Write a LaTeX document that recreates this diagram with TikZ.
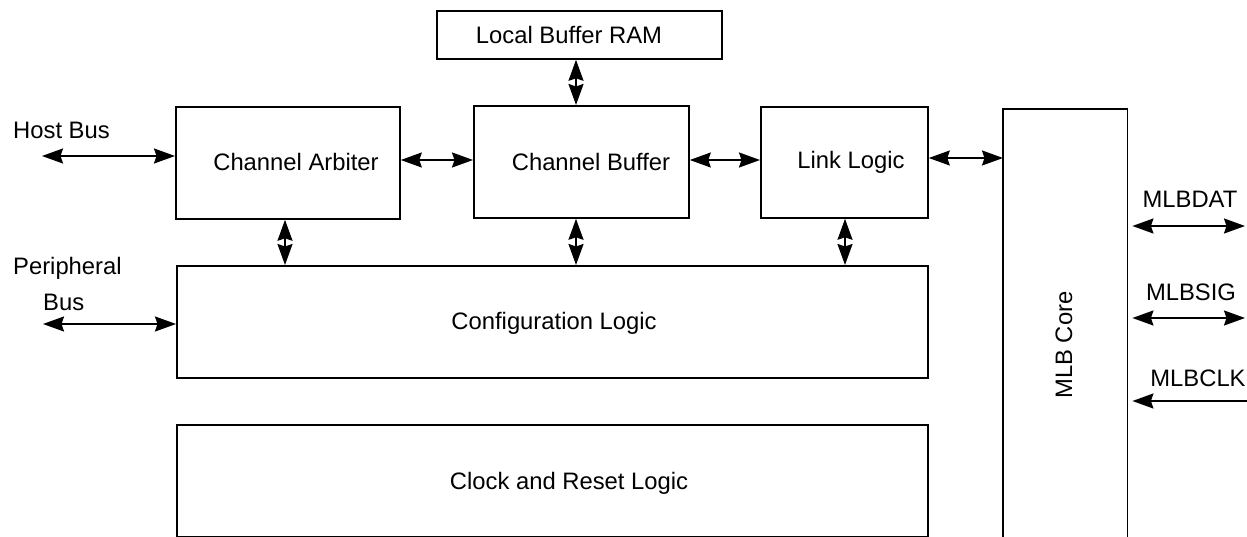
\documentclass[tikz,border=0pt]{standalone}
\usepackage{fontspec}
\setmainfont{Liberation Sans}
\usetikzlibrary{arrows.meta}
\begin{document}
\begin{tikzpicture}[x=1pt,y=-1pt,
  blk/.style={draw, line width=1.8pt, inner sep=0pt, anchor=north west},
  txt/.style={inner sep=0pt, font=\fontsize{23.8}{28}\selectfont},
  conn/.style={line width=1.8pt, {Stealth[length=21pt,width=15pt,inset=2.5pt]}-{Stealth[length=21pt,width=15pt,inset=2.5pt]}},
  conn1/.style={line width=1.8pt, -{Stealth[length=21pt,width=15pt,inset=2.5pt]}}]
\useasboundingbox (0,0) rectangle (1247,537);
% boxes
\node[blk, minimum width=285pt, minimum height=48pt] (lbr) at (436,10) {};
\node[blk, minimum width=224pt, minimum height=112pt] (ca) at (175,106) {};
\node[blk, minimum width=215pt, minimum height=112pt] (cb) at (473,105) {};
\node[blk, minimum width=167pt, minimum height=111pt] (ll) at (760,106) {};
\node[blk, minimum width=751pt, minimum height=112pt] (cfg) at (176,265) {};
\node[blk, minimum width=751pt, minimum height=112pt] (clk) at (176,424) {};
\node[inner sep=0pt, minimum width=124pt, minimum height=440pt, anchor=north west] (mlb) at (1003,109) {};
\draw[line width=1.8pt] (mlb.south west) -- (mlb.north west) -- (mlb.north east) -- (mlb.south east);
% box texts
\node[txt] (tlbr) at (569,35) {Local Buffer RAM};
\node[txt] (tca) at (296,162) {Channel Arbiter};
\node[txt] (tcb) at (591,162) {Channel Buffer};
\node[txt] (tll) at (851,162) {Link Logic};
\node[txt] (tcfg) at (554,323) {Configuration Logic};
\node[txt] (tclk) at (569,483) {Clock and Reset Logic};
\node[txt, rotate=90] (tmlb) at (1064,345) {MLB Core};
% outside labels
\node[txt, anchor=west] (lhb) at (13,130) {Host Bus};
\node[txt, anchor=west] (lper) at (13,268) {Peripheral};
\node[txt, anchor=west] (lbus) at (43,302) {Bus};
\node[txt] (ldat) at (1190,199) {MLBDAT};
\node[txt] (lsig) at (1191,292) {MLBSIG};
\node[txt] (lclk) at (1198,378) {MLBCLK};
% free ends
\coordinate (hb) at (42,156);
\coordinate (pb) at (43,324);
\coordinate (dat) at (1245,226);
\coordinate (sig) at (1245,318);
\coordinate (clkin) at (1247,401);
\coordinate (r1) at (0,160);
\coordinate (r2) at (0,158);
% connectors
\draw[conn] (hb) -- (ca.west |- hb);
\draw[conn] (pb) -- (cfg.west |- pb);
\draw[conn] (ca.east |- r1) -- (cb.west |- r1);
\draw[conn] (cb.east |- r1) -- (ll.west |- r1);
\draw[conn] (ll.east |- r2) -- (mlb.west |- r2);
\draw[conn] (lbr.south -| 576,0) -- (cb.north -| 576,0);
\draw[conn] (ca.south -| 285,0) -- (cfg.north -| 285,0);
\draw[conn] (cb.south -| 576,0) -- (cfg.north -| 576,0);
\draw[conn] (ll.south -| 845,0) -- (cfg.north -| 845,0);
\draw[conn] ([xshift=5pt]mlb.east |- dat) -- (dat);
\draw[conn] ([xshift=5pt]mlb.east |- sig) -- (sig);
\draw[conn1] (clkin) -- ([xshift=5pt]mlb.east |- clkin);
\end{tikzpicture}
\end{document}
